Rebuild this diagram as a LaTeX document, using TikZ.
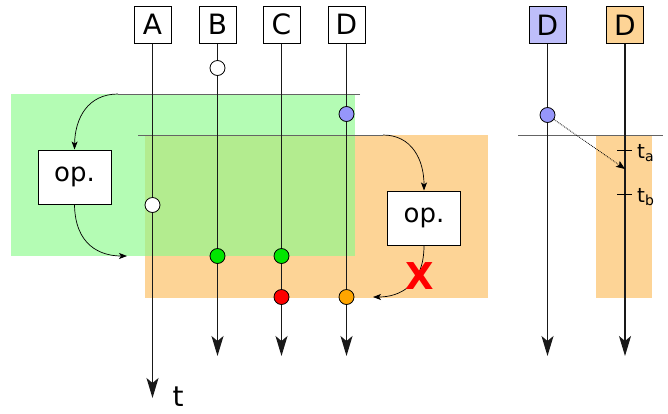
\documentclass[tikz,border=0pt]{standalone}
\usepackage{fontspec}
\setmainfont{DejaVu Sans}
\usetikzlibrary{arrows.meta}
\definecolor{zoneorange}{RGB}{253,212,150}
\definecolor{zonegreen}{RGB}{140,250,140}
\definecolor{evblue}{RGB}{150,150,250}
\definecolor{hdrblue}{RGB}{190,190,250}
\definecolor{evgreen}{RGB}{0,230,0}
\definecolor{evorange}{RGB}{255,165,0}
\definecolor{linegray}{RGB}{25,25,25}
\definecolor{edgegray}{RGB}{100,100,100}
\tikzset{
  hdr/.style={draw, line width=1pt, minimum size=37pt, inner sep=0pt, font=\fontsize{28}{28}\selectfont},
  opbox/.style={draw, line width=1pt, fill=white, minimum width=73pt, minimum height=54pt, inner sep=0pt, font=\fontsize{26}{26}\selectfont},
  tline/.style={draw=linegray, line width=1.2pt, -{Stealth[length=20pt,width=12pt,inset=5pt]}},
  ev/.style={circle, draw, line width=0.8pt, minimum size=15pt, inner sep=0pt},
  flow/.style={draw=black, line width=0.7pt, -{Stealth[length=8pt,width=6pt,inset=2pt]}},
  edge/.style={draw=edgegray, line width=1pt},
  tick/.style={draw=black, line width=1pt},
  lbl/.style={font=\fontsize{20}{20}\selectfont, anchor=west, inner sep=0pt},
}
\begin{document}
\begin{tikzpicture}[x=1pt,y=-1pt]
\useasboundingbox (0,0) rectangle (668,413);

% zones
\fill[zoneorange] (145,135) rectangle (488,298);
\fill[zonegreen, fill opacity=0.65] (11,94) rectangle (355,256);
\fill[zoneorange] (596,135) rectangle (652,298);

% headers
\node[hdr] (A) at (152.5,24.5) {A};
\node[hdr] (B) at (217.5,24.5) {B};
\node[hdr] (C) at (281.5,24.5) {C};
\node[hdr] (D) at (346.5,24.5) {D};
\node[hdr, fill=hdrblue] (D1) at (547.5,25) {D};
\node[hdr, fill=zoneorange] (D2) at (625,25) {D};

% operation boxes
\node[opbox] (op1) at (74.5,177) {op.};
\node[opbox] (op2) at (424,218) {op.};

% zone edges and operation flows
\coordinate (g1) at (360,94);
\coordinate (g2) at (118,94);
\coordinate (g3) at (127,256);
\coordinate (o1) at (138,135);
\coordinate (o2) at (383,135);
\coordinate (o3) at (373,297);
\draw[edge] (g1) -- (g2);
\draw[edge] (o1) -- (o2);
\draw[flow] (g2) .. controls (88,94) and (75,118) .. (op1.north);
\draw[flow] (op1.south) .. controls (75,245) and (100,256) .. (g3);
\draw[flow] (o2) .. controls (412,135) and (424,160) .. (op2.north);
\draw[flow] (op2.south) .. controls (424,285) and (400,297) .. (o3);
\node[text=red, font=\fontsize{37}{37}\selectfont\bfseries, inner sep=0pt] (x) at (420,276) {X};

% right panel
\coordinate (r1) at (518,135);
\coordinate (r2) at (663,135);
\draw[edge] (r1) -- (r2);

% timelines
\coordinate (Aend) at (152.5,398);
\coordinate (Bend) at (217.5,356);
\coordinate (Cend) at (281.5,356);
\coordinate (Dend) at (346.5,356);
\coordinate (D1end) at (547.5,356);
\coordinate (D2end) at (625,356);
\draw[tline] (A) -- (Aend);
\draw[tline] (B) -- (Bend);
\draw[tline] (C) -- (Cend);
\draw[tline] (D) -- (Dend);
\draw[tline] (D1) -- (D1end);
\draw[tline] (D2) -- (D2end);
\node[font=\fontsize{28}{28}\selectfont, inner sep=0pt] (t) at (178,397) {t};

% events
\node[ev, fill=white] (eB) at (217.5,68) {};
\node[ev, fill=white] (eA) at (152.5,205) {};
\node[ev, fill=evblue] (eD) at (346.5,114) {};
\node[ev, fill=evgreen] (eB2) at (217.5,256) {};
\node[ev, fill=evgreen] (eC2) at (281.5,256) {};
\node[ev, fill=red] (eC3) at (281.5,297) {};
\node[ev, fill=evorange] (eD3) at (346.5,297) {};
\node[ev, fill=evblue] (eD1) at (547.5,115) {};

% time marks on the right
\coordinate (ta1) at (617,150);
\coordinate (ta2) at (632,150);
\coordinate (tb1) at (617,194);
\coordinate (tb2) at (632,194);
\draw[tick] (ta1) -- (ta2);
\draw[tick] (tb1) -- (tb2);
\node[lbl] (ta) at (637,153) {t\textsubscript{a}};
\node[lbl] (tb) at (637,197) {t\textsubscript{b}};
\coordinate (hit) at (625,169);
\draw[densely dotted, line width=0.8pt, -{Stealth[length=9pt,width=7pt,inset=2pt]}] (eD1) -- (hit);
\end{tikzpicture}
\end{document}
